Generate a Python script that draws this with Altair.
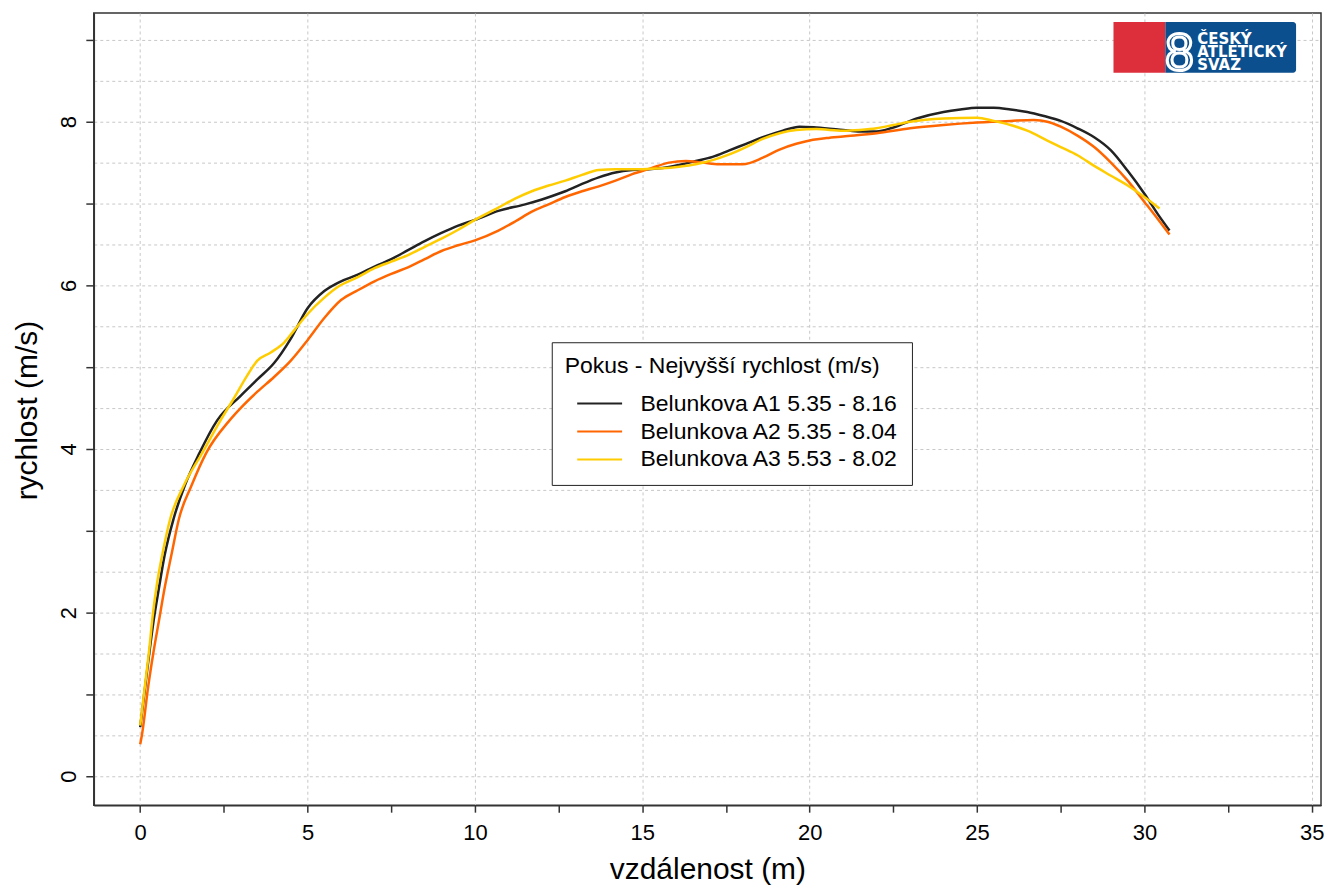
import altair as alt
import pandas as pd

series = ["Belunkova A1 5.35 - 8.16", "Belunkova A2 5.35 - 8.04", "Belunkova A3 5.53 - 8.02"]
colors = ["#222222", "#ff6600", "#ffcc00"]

a1_x = [0, 0.15, 0.27, 0.4, 0.56, 0.73, 1.0, 1.33, 1.77, 2.3, 3.0, 3.5, 4.0, 4.5, 5.0, 5.5, 6.0, 6.5,
        7.0, 7.5, 8.0, 8.5, 9.0, 9.5, 10.0, 10.7, 11.5, 12.0, 12.7, 13.2, 13.7, 14.2, 14.7, 15.2, 15.7,
        16.2, 16.6, 17.1, 17.6, 18.1, 18.6, 19.2, 19.7, 20.2, 21.0, 21.5, 22.0, 22.5, 23.2, 24.0, 24.5,
        25.0, 25.5, 26.0, 26.5, 27.0, 27.5, 28.0, 28.5, 29.0, 29.5, 30.0, 30.4, 30.75]
a1_y = [0.6, 1.1, 1.5, 1.9, 2.3, 2.7, 3.15, 3.55, 3.95, 4.35, 4.65, 4.85, 5.05, 5.35, 5.72, 5.93, 6.05, 6.13,
        6.23, 6.32, 6.43, 6.54, 6.64, 6.73, 6.8, 6.91, 6.99, 7.05, 7.15, 7.24, 7.32, 7.38, 7.41, 7.42, 7.44,
        7.48, 7.52, 7.57, 7.65, 7.73, 7.81, 7.89, 7.94, 7.93, 7.9, 7.88, 7.88, 7.93, 8.04, 8.12, 8.15,
        8.17, 8.17, 8.15, 8.12, 8.07, 8.01, 7.92, 7.81, 7.65, 7.4, 7.12, 6.87, 6.67]

a2_x = [0, 0.05, 0.24, 0.39, 0.56, 0.73, 0.93, 1.16, 1.53, 1.97, 2.67, 3.0, 3.5, 4.0, 4.5, 5.0, 5.5, 6.0,
        6.5, 7.0, 7.5, 8.0, 8.5, 9.0, 9.5, 10.0, 10.7, 11.2, 11.7, 12.2, 12.7, 13.2, 13.7, 14.2, 14.7,
        15.25, 15.8, 16.3, 16.8, 17.3, 18.0, 18.6, 19.1, 19.6, 20.1, 20.5, 21.0, 22.0, 23.0, 24.0, 25.0,
        26.0, 26.7, 27.1, 27.5, 28.0, 28.5, 29.0, 29.5, 30.0, 30.4, 30.75]
a2_y = [0.39, 0.5, 1.1, 1.5, 1.9, 2.3, 2.7, 3.15, 3.55, 3.95, 4.35, 4.5, 4.7, 4.88, 5.08, 5.33, 5.6, 5.82,
        5.94, 6.05, 6.14, 6.22, 6.32, 6.42, 6.49, 6.55, 6.67, 6.78, 6.9, 6.99, 7.08, 7.15, 7.21, 7.28, 7.36,
        7.43, 7.5, 7.52, 7.5, 7.48, 7.48, 7.56, 7.66, 7.73, 7.78, 7.8, 7.82, 7.86, 7.92, 7.96, 7.99,
        8.01, 8.02, 8.0, 7.94, 7.83, 7.69, 7.5, 7.28, 7.02, 6.81, 6.62]

a3_x = [0, 0.14, 0.27, 0.37, 0.5, 0.68, 0.9, 1.3, 1.85, 2.4, 2.8, 3.2, 3.5, 3.9, 4.3, 4.6, 5.0, 5.5, 5.9,
        6.5, 7.0, 7.5, 8.0, 8.5, 9.0, 9.5, 10.0, 10.7, 11.2, 11.7, 12.2, 12.7, 13.2, 13.7, 14.2, 15.0,
        15.6, 16.1, 16.6, 17.1, 17.6, 18.1, 18.6, 19.1, 19.6, 20.2, 21.0, 21.5, 22.0, 22.5, 23.0, 24.0,
        25.0, 25.5, 26.0, 26.5, 27.1, 27.5, 28.0, 28.5, 29.0, 29.5, 30.0, 30.45]
a3_y = [0.62, 1.1, 1.55, 1.95, 2.35, 2.75, 3.15, 3.55, 3.95, 4.35, 4.62, 4.9, 5.08, 5.18, 5.3, 5.45, 5.65, 5.85, 5.98,
        6.1, 6.21, 6.29, 6.37, 6.47, 6.57, 6.68, 6.8, 6.95, 7.06, 7.15, 7.22, 7.28, 7.35, 7.41, 7.42, 7.42,
        7.43, 7.45, 7.48, 7.53, 7.6, 7.69, 7.79, 7.86, 7.9, 7.91, 7.89, 7.9, 7.92, 7.96, 8.0, 8.04,
        8.05, 8.01, 7.96, 7.89, 7.77, 7.69, 7.59, 7.46, 7.34, 7.22, 7.08, 6.94]

x_ticks = [0, 2.5, 5, 7.5, 10, 12.5, 15, 17.5, 20, 22.5, 25, 27.5, 30, 32.5, 35]
y_ticks = [0, 0.5, 1, 1.5, 2, 2.5, 3, 3.5, 4, 4.5, 5, 5.5, 6, 6.5, 7, 7.5, 8, 8.5, 9]

rows = []
for name, xs, ys in zip(series, [a1_x, a2_x, a3_x], [a1_y, a2_y, a3_y]):
    for i, (xv, yv) in enumerate(zip(xs, ys)):
        rows.append({"series": name, "dist": xv, "speed": yv, "i": i})
df = pd.DataFrame(rows)

FONT = "Liberation Sans"

x_axis = alt.Axis(
    values=x_ticks,
    labelExpr="datum.value % 5 === 0 ? format(datum.value, 'd') : ''",
    gridOpacity={"condition": {"test": "datum.value % 5 === 0", "value": 1}, "value": 0},
    tickSize=7, labelPadding=10, labelFontSize=22,
    title="vzdálenost (m)", titleFontSize=30, titleY=64, titleBaseline="middle",
)
y_axis = alt.Axis(
    values=y_ticks,
    labelExpr="datum.value % 2 === 0 ? format(datum.value, 'd') : ''",
    tickOpacity={"condition": {"test": "datum.value % 1 === 0", "value": 1}, "value": 0},
    tickSize=8, labelPadding=10, labelFontSize=22, labelAngle=-90,
    labelAlign="center", labelBaseline="alphabetic",
    title="rychlost (m/s)", titleFontSize=30, titleX=-66, titleY=398, titleBaseline="middle",
    titleAngle=270,
)

lines = alt.Chart(df).mark_line(strokeWidth=2.5, interpolate="monotone").encode(
    x=alt.X("dist:Q", scale=alt.Scale(domain=[-1.386, 35.276], nice=False, zero=False), axis=x_axis),
    y=alt.Y("speed:Q", scale=alt.Scale(domain=[-0.354, 9.329], nice=False, zero=False), axis=y_axis),
    color=alt.Color(
        "series:N",
        scale=alt.Scale(domain=series, range=colors),
        legend=alt.Legend(
            title="Pokus - Nejvyšší rychlost (m/s)",
            orient="none", legendX=459, legendY=330,
            symbolType="M0,0H4", symbolSize=506, symbolStrokeWidth=2,
            labelOffset=51, rowPadding=3, labelLimit=0, titleLimit=0,
        ),
    ),
    order="i:Q",
)

one = pd.DataFrame({"k": [0]})
LOGO_FONT = "DejaVu Sans"
logo_red = alt.Chart(one).mark_rect(color="#dc2f3b").encode(
    x=alt.value(1022), x2=alt.value(1074), y=alt.value(9), y2=alt.value(60))
logo_blue = alt.Chart(one).mark_rect(color="#0c4f8e", cornerRadiusTopRight=3, cornerRadiusBottomRight=3).encode(
    x=alt.value(1074), x2=alt.value(1205), y=alt.value(9), y2=alt.value(60))
logo_8 = alt.Chart(one).mark_text(text="8", font=FONT, fontSize=52, color="#0c4f8e",
                                  stroke="white", strokeWidth=3, baseline="alphabetic", align="center").encode(
    x=alt.value(1088), y=alt.value(57))
logo_t1 = alt.Chart(one).mark_text(text="ČESKÝ", font=LOGO_FONT, fontSize=15, fontWeight="bold", color="white",
                                   align="left", baseline="alphabetic").encode(x=alt.value(1106), y=alt.value(31))
logo_t2 = alt.Chart(one).mark_text(text="ATLETICKÝ", font=LOGO_FONT, fontSize=15, fontWeight="bold", color="white",
                                   align="left", baseline="alphabetic").encode(x=alt.value(1106), y=alt.value(44))
logo_t3 = alt.Chart(one).mark_text(text="SVAZ", font=LOGO_FONT, fontSize=15, fontWeight="bold", color="white",
                                   align="left", baseline="alphabetic").encode(x=alt.value(1106), y=alt.value(57))

chart = alt.layer(lines, logo_red, logo_blue, logo_8, logo_t1, logo_t2, logo_t3).properties(
    width=1230, height=794,
    padding={"left": 86, "top": 4, "right": 4, "bottom": 82},
    autosize=alt.AutoSizeParams(type="none"),
).configure_view(
    stroke="#333333", strokeWidth=1.5
).configure_axis(
    domainColor="#333333", domainWidth=1.5, tickColor="#333333", tickWidth=1.5,
    gridColor="#c8c8c8", gridDash=[3, 3], gridWidth=1,
    labelFont=FONT, titleFont=FONT, labelColor="#000000", titleColor="#000000",
    titleFontWeight="normal",
).configure_legend(
    labelFont=FONT, titleFont=FONT, labelFontSize=23, titleFontSize=23,
    titleFontWeight="normal", titleColor="#000000", labelColor="#000000",
    strokeColor="#222222", fillColor="#ffffff", padding=13, titlePadding=13,
)

chart.save("out.html", embed_options={"renderer": "svg", "actions": False})
